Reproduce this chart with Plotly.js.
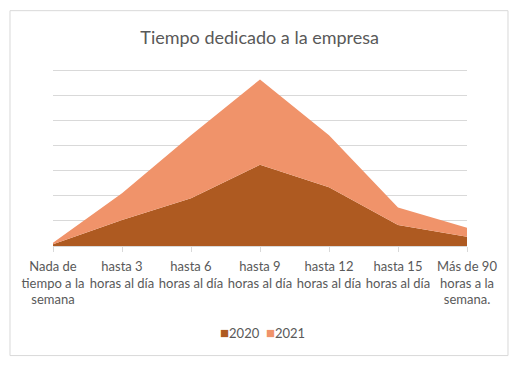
<!DOCTYPE html>
<html>
<head>
<meta charset="utf-8">
<script src="https://cdn.plot.ly/plotly-3.0.1.min.js"></script>
<style>html,body{margin:0;padding:0;background:#fff;}#chart{width:530px;height:366px;}</style>
</head>
<body>
<div id="chart"></div>
<script>
const categories = [
  "Nada de<br>tiempo a la<br>semana",
  "hasta 3<br>horas al día",
  "hasta 6<br>horas al día",
  "hasta 9<br>horas al día",
  "hasta 12<br>horas al día",
  "hasta 15<br>horas al día",
  "Más de 90<br>horas a la<br>semana."
];
const seriesNames = ["2020", "2021"];
const values2020 = [0.35, 5.2, 9.5, 16.2, 11.7, 4.2, 1.85];
const values2021 = [0.3, 5.3, 12.6, 17.0, 10.4, 3.5, 1.8];
const colors = ["#ae5a21", "#f0936a"];

const font = "Lato, 'Open Sans', sans-serif";
const traces = [
  {x: categories, y: values2020, name: seriesNames[0], type: "scatter", mode: "lines",
   stackgroup: "one", line: {width: 0, color: colors[0]}, fillcolor: colors[0], showlegend: false},
  {x: categories, y: values2021, name: seriesNames[1], type: "scatter", mode: "lines",
   stackgroup: "one", line: {width: 0, color: colors[1]}, fillcolor: colors[1], showlegend: false}
];
const legendText = seriesNames.map((n, i) =>
  '<span style="color:' + colors[i] + ';font-size:15px">■</span>' + n).join('&nbsp;&nbsp;');
const layout = {
  width: 530, height: 366,
  margin: {l: 53, r: 63, t: 69, b: 120},
  paper_bgcolor: "#fff", plot_bgcolor: "#fff",
  font: {family: font, color: "#595959", size: 13},
  title: {text: "Tiempo dedicado a la empresa", font: {family: font, size: 18, color: "#595959"},
          x: 0.49, xanchor: "center", y: 0.898, yanchor: "middle"},
  xaxis: {type: "category", range: [0, 6], showgrid: false, zeroline: false,
          showline: true, linecolor: "#d9d9d9", linewidth: 1,
          ticks: "outside", ticklen: 5, tickcolor: "#d9d9d9", ticklabelstandoff: 3,
          tickfont: {family: font, size: 13, color: "#595959"}, fixedrange: true},
  yaxis: {range: [0, 35.3], tickvals: [5, 10, 15, 20, 25, 30, 35], showgrid: true,
          gridcolor: "#d9d9d9", gridwidth: 1,
          zeroline: false, showticklabels: false, ticks: ""},
  showlegend: false,
  annotations: [{text: legendText, xref: "paper", yref: "paper", x: 0.505, y: -0.487,
                 xanchor: "center", yanchor: "middle", showarrow: false,
                 font: {family: font, size: 13, color: "#595959"}}],
  shapes: [{type: "rect", xref: "paper", yref: "paper",
            x0: -0.1039, x1: 1.099, y0: -0.619, y1: 1.3295,
            line: {color: "#d9d9d9", width: 1}, fillcolor: "rgba(0,0,0,0)"}]
};
Plotly.newPlot("chart", traces, layout, {displayModeBar: false, staticPlot: true});
</script>
</body>
</html>
